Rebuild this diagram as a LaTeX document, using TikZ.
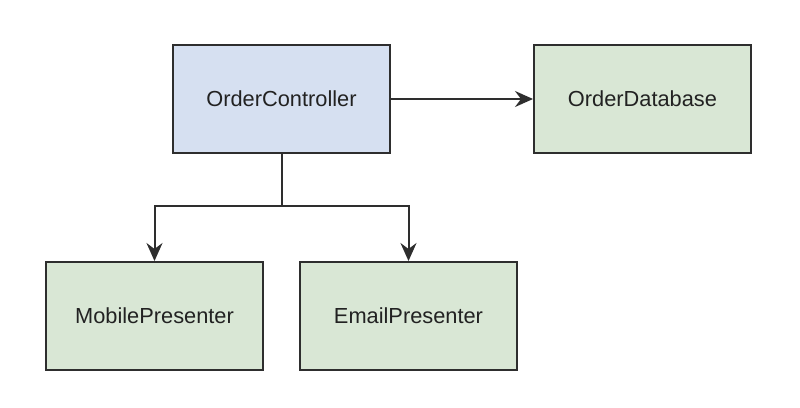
\documentclass[tikz,border=0pt]{standalone}
\usepackage{fontspec}
\setmainfont{Liberation Sans}
\usetikzlibrary{arrows.meta}
\definecolor{bluefill}{HTML}{D6E0F1}
\definecolor{greenfill}{HTML}{D9E7D5}
\definecolor{edge}{HTML}{2E2E2E}
\definecolor{txt}{HTML}{222222}
\begin{document}
\begin{tikzpicture}[x=1pt,y=-1pt,
  box/.style={draw=edge, line width=2pt, minimum width=217pt, minimum height=108pt, inner sep=0pt, anchor=north west, text=txt, font=\fontsize{21.8}{24}\selectfont},
  conn/.style={draw=edge, line width=2pt, -{Stealth[length=18pt,width=16pt,inset=6pt]}},
  wire/.style={draw=edge, line width=2pt}]
\useasboundingbox (0,0) rectangle (800,407);
\fill[white] (0,0) rectangle (800,407);
\node[box, fill=bluefill] (ctrl) at (172,44) {OrderController};
\node[box, fill=greenfill] (db) at (533,44) {OrderDatabase};
\node[box, fill=greenfill] (mob) at (45,261) {MobilePresenter};
\node[box, fill=greenfill] (email) at (299,261) {EmailPresenter};
\coordinate (split) at (ctrl.south |- 0,206);
\draw[conn] (ctrl.east) -- (db.west);
\draw[wire] (ctrl.south) -- (split);
\draw[conn] (split) -| (mob.north);
\draw[conn] (split) -| (email.north);
\end{tikzpicture}
\end{document}
